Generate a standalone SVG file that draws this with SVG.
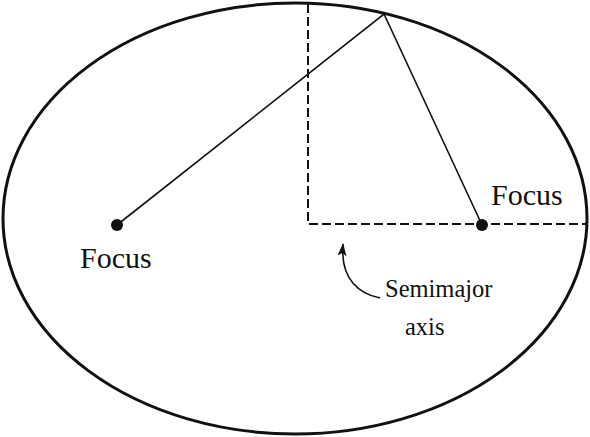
<svg xmlns="http://www.w3.org/2000/svg" width="590" height="437" viewBox="0 0 590 437">
<defs>
<style>
.lbl{font-family:"Liberation Serif","Times New Roman",serif;fill:#111}
.dash{stroke:#111;stroke-width:2;stroke-dasharray:9 4;fill:none}
.ln{stroke:#111;stroke-width:1.6;fill:none}
</style>
<marker id="ah" viewBox="0 0 13 9" refX="12" refY="4.5" markerWidth="13" markerHeight="9" orient="auto" markerUnits="userSpaceOnUse">
<path d="M0,0 L13,4.5 L0,9 L3,4.5 z" fill="#111"/>
</marker>
</defs>
<rect width="590" height="437" fill="#fff"/>
<g id="ellipse"><ellipse cx="295" cy="218.5" rx="292" ry="215.5" fill="none" stroke="#111" stroke-width="3"/></g>
<g id="connectors">
<path class="dash" d="M308,4 L308,224 L586,224"/>
<path class="ln" d="M117,225 L384,14 L482,225"/>
<path class="ln" d="M380,298 C360,294 340,280 343,244" marker-end="url(#ah)" stroke-width="2"/>
</g>
<g id="focus-left"><circle cx="117" cy="225" r="6" fill="#111"/><text class="lbl" x="80" y="268" font-size="30">Focus</text></g>
<g id="focus-right"><circle cx="482" cy="225" r="6" fill="#111"/><text class="lbl" x="491" y="205" font-size="30">Focus</text></g>
<g id="label"><text class="lbl" x="385" y="297" font-size="24.5">Semimajor</text><text class="lbl" x="405" y="335" font-size="24.5">axis</text></g>
</svg>
